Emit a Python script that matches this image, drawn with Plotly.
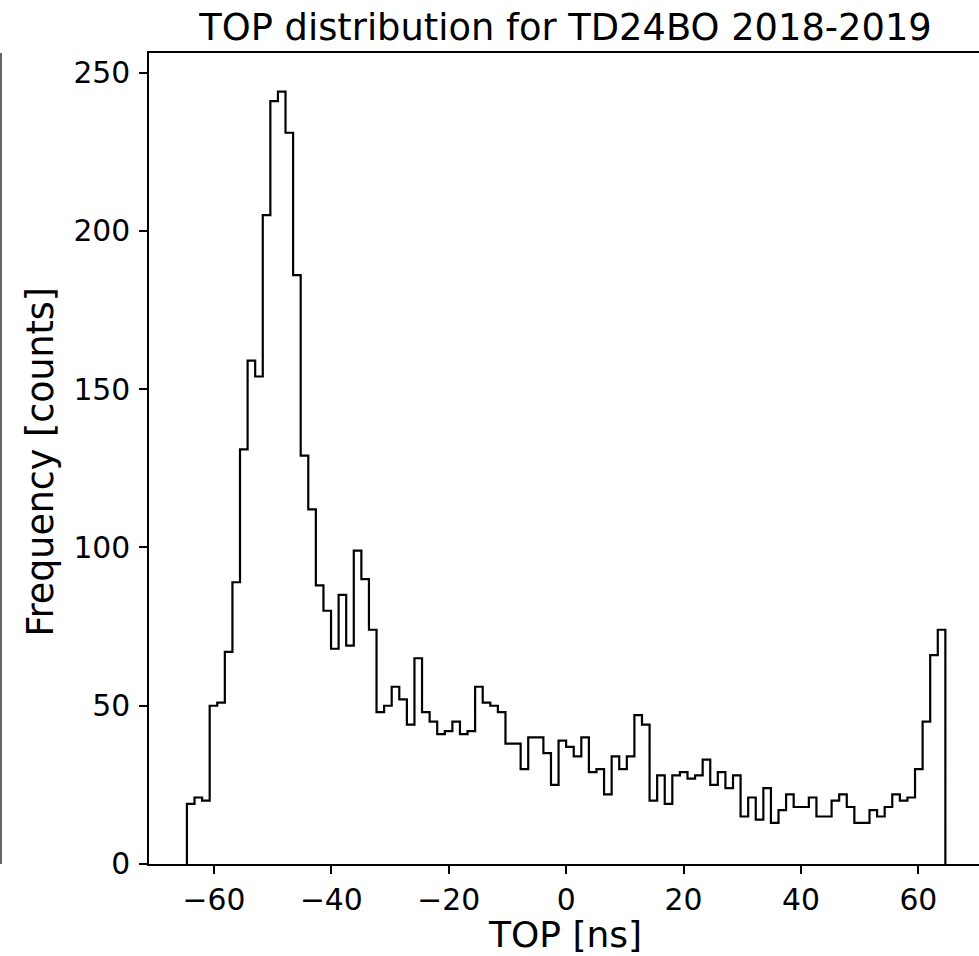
import numpy as np
import plotly.graph_objects as go

# ---- data ----
BIN_MIN = -64.6
BIN_MAX = 64.6
N_BINS = 100
counts = [
    19, 21, 20, 50, 51, 67, 89, 131, 159, 154,
    205, 241, 244, 231, 186, 129, 112, 88, 80, 68,
    85, 69, 99, 90, 74, 48, 50, 56, 52, 44,
    65, 48, 45, 41, 42, 45, 41, 42, 56, 51,
    50, 48, 38, 38, 30, 40, 40, 35, 25, 39,
    37, 34, 40, 29, 30, 22, 34, 30, 34, 47,
    44, 20, 28, 19, 28, 29, 27, 28, 33, 25,
    29, 24, 28, 15, 21, 14, 24, 13, 17, 22,
    18, 18, 21, 15, 15, 20, 22, 18, 13, 13,
    17, 15, 18, 22, 20, 21, 30, 45, 66, 74,
]
x_tick_vals = [-60, -40, -20, 0, 20, 40, 60]
x_tick_text = ["\u221260", "\u221240", "\u221220", "0", "20", "40", "60"]
y_tick_vals = [0, 50, 100, 150, 200, 250]
y_tick_text = ["0", "50", "100", "150", "200", "250"]
title_text = "TOP distribution for TD24BO 2018-2019"
x_label = "TOP [ns]"
y_label = "Frequency [counts]"

# ---- step outline built from bin edges and counts ----
edges = np.linspace(BIN_MIN, BIN_MAX, N_BINS + 1)
xs = [edges[0]] + list(edges[:-1]) + [edges[-1]]
ys = [0] + list(counts) + [0]

FONT = "DejaVu Sans"
W, H = 979, 956
L, R, T, B = 149, 0, 53, 92
pw = W - L - R
ph = H - T - B

fig = go.Figure()
fig.add_trace(go.Scatter(
    x=xs, y=ys, mode="lines", line=dict(shape="hv", color="black", width=2.2),
    hoverinfo="skip", showlegend=False,
))

fig.update_layout(
    width=W, height=H,
    margin=dict(l=L, r=R, t=T, b=B, pad=0),
    paper_bgcolor="white", plot_bgcolor="white",
    font=dict(family=FONT, color="black"),
    showlegend=False,
    title=dict(
        text=title_text, font=dict(size=36.8, family=FONT, color="black"),
        xref="container", x=565.5 / W, xanchor="center",
        yref="container", y=1 - 27 / H, yanchor="middle",
    ),
)

fig.update_xaxes(
    range=[-71.06, 70.33], tickmode="array", tickvals=x_tick_vals, ticktext=x_tick_text,
    ticks="outside", ticklen=8, tickwidth=1.5, tickcolor="black",
    showline=True, linecolor="black", linewidth=1.5, mirror=True,
    showgrid=False, zeroline=False,
    tickfont=dict(size=29.8, family=FONT, color="black"),
)
fig.update_yaxes(
    range=[0, 256.2], tickmode="array", tickvals=y_tick_vals, ticktext=y_tick_text,
    ticks="outside", ticklen=8, tickwidth=1.5, tickcolor="black",
    showline=True, linecolor="black", linewidth=1.5, mirror=False,
    showgrid=False, zeroline=False, ticklabelstandoff=3,
    tickfont=dict(size=29.8, family=FONT, color="black"),
)

# axis titles as annotations for exact placement
fig.add_annotation(
    text=x_label, xref="paper", yref="paper",
    x=(565 - L) / pw, y=(H - B - 934.8) / ph,
    xanchor="center", yanchor="middle", showarrow=False, borderpad=0,
    font=dict(size=36, family=FONT, color="black"),
)
fig.add_annotation(
    text=y_label, xref="paper", yref="paper",
    x=(41 - L) / pw, y=(H - B - 461.6) / ph,
    xanchor="center", yanchor="middle", textangle=-90, showarrow=False, borderpad=0,
    font=dict(size=36.4, family=FONT, color="black"),
)

# remnant spine of a neighbouring panel at the far left edge
fig.add_shape(
    type="line", xref="paper", yref="paper",
    x0=(1 - L) / pw, x1=(1 - L) / pw, y0=0, y1=1,
    line=dict(color="#333333", width=1.5),
)

fig.write_html("out.html")
